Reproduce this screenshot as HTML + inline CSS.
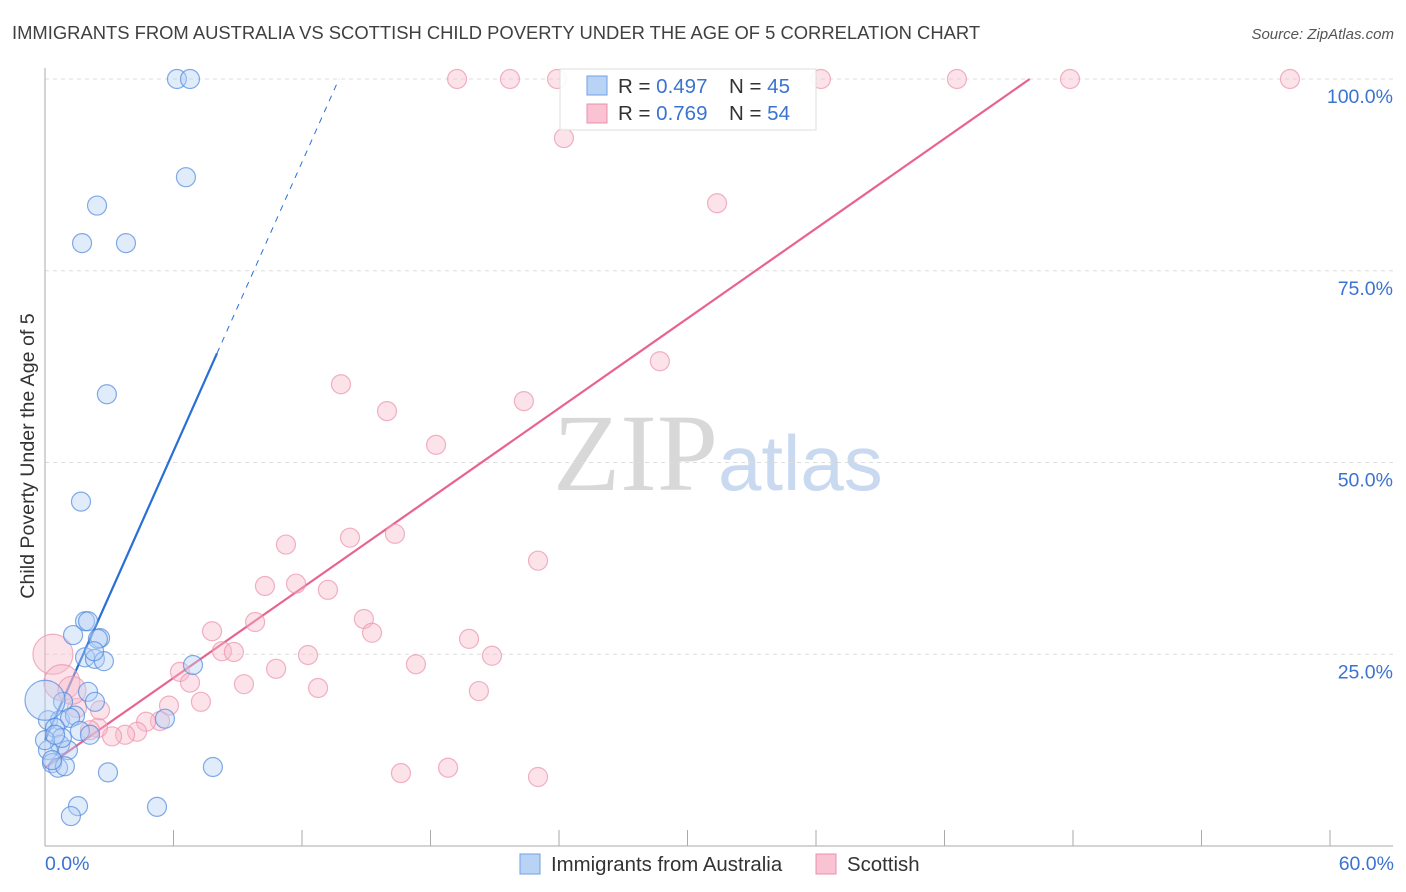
<!DOCTYPE html>
<html><head><meta charset="utf-8"><style>
body{margin:0;background:#fff;font-family:"Liberation Sans",sans-serif}
svg{display:block}
</style></head><body>
<svg id="chart" width="1406" height="892" xmlns="http://www.w3.org/2000/svg">
<text x="12" y="39" font-size="18.4" fill="#404040">IMMIGRANTS FROM AUSTRALIA VS SCOTTISH CHILD POVERTY UNDER THE AGE OF 5 CORRELATION CHART</text>
<text x="1394" y="39" font-size="15" fill="#555" font-style="italic" text-anchor="end">Source: ZipAtlas.com</text>
<text x="553" y="490" font-size="110" fill="#d8d8d8" font-family="Liberation Serif,serif">ZIP</text>
<text x="718" y="490" font-size="78" fill="#c9d9f0">atlas</text>
<text transform="translate(34,456) rotate(-90)" font-size="19.6" fill="#333" text-anchor="middle">Child Poverty Under the Age of 5</text>
<g id="grid"></g><g id="axes"></g><g id="trend"></g><g id="pts"></g>
<g>
<rect x="560" y="69" width="256" height="61" fill="#fff" fill-opacity="0.9" stroke="#ddd"/>
<rect x="587" y="76" width="20" height="19" fill="#b9d3f5" stroke="#6fa0e6"/>
<rect x="587" y="104" width="20" height="19" fill="#f9c3d3" stroke="#ec8fab"/>
<text x="618" y="93" font-size="20.5" fill="#333">R = <tspan fill="#3b73d0">0.497</tspan><tspan x="729">N = </tspan><tspan fill="#3b73d0">45</tspan></text>
<text x="618" y="120" font-size="20.5" fill="#333">R = <tspan fill="#3b73d0">0.769</tspan><tspan x="729">N = </tspan><tspan fill="#3b73d0">54</tspan></text>
</g>
<g>
<rect x="520" y="854" width="20" height="20" fill="#b9d3f5" stroke="#6fa0e6"/>
<text x="551" y="871" font-size="20.4" fill="#333">Immigrants from Australia</text>
<rect x="816" y="854" width="20" height="20" fill="#f9c3d3" stroke="#ec8fab"/>
<text x="847" y="871" font-size="20.4" fill="#333">Scottish</text>
</g>
<text x="45" y="870" font-size="19.5" fill="#3b73d0">0.0%</text>
<text x="1394" y="870" font-size="19.5" fill="#3b73d0" text-anchor="end">60.0%</text>
</svg>
<script>
const yTicks=[25,50,75,100];
const yTickLabels=["25.0%","50.0%","75.0%","100.0%"];
const blueX=[6.16,6.77,6.58,2.43,1.73,3.78,2.89,1.68,1.87,2.01,1.31,2.57,2.47,1.87,2.33,2.75,2.29,6.91,2.01,2.33,0.84,0.14,0.70,1.40,1.17,5.60,0.47,1.63,0.70,1.07,0.14,0.33,0.61,0.93,0.33,2.94,7.84,1.54,5.23,1.21,0,0.79,0,0.47,2.10];
const blueY=[100,100,87.2,83.5,78.6,78.6,58.9,44.9,29.3,29.3,27.5,27.1,27.0,24.6,24.4,24.1,25.4,23.6,20.1,18.8,18.8,16.4,16.4,17.0,16.7,16.6,15.4,15.0,13.2,12.5,12.5,10.8,10.2,10.4,11.2,9.6,10.3,5.2,5.1,3.9,19,14.1,13.8,14.5,14.5];
const pinkX=[19.24,21.71,23.91,36.23,42.58,47.86,58.13,24.23,31.38,28.71,13.82,15.97,22.36,18.26,14.24,16.34,11.25,23.02,10.27,11.72,13.21,14.89,9.81,15.27,7.80,19.80,20.87,8.26,8.82,12.28,10.79,17.32,6.30,6.77,9.29,12.75,20.26,7.28,5.79,5.37,4.72,4.30,3.74,3.13,2.47,2.10,1.49,0.37,0.79,1.26,16.62,18.82,23.02,2.57];
const pinkY=[100,100,100,100,100,100,100,92.3,83.8,63.2,60.2,56.7,58.0,52.3,40.2,40.7,39.3,37.2,33.9,34.2,33.4,29.6,29.2,27.8,28.0,27.0,24.8,25.4,25.3,24.9,23.1,23.7,22.7,21.3,21.1,20.6,20.2,18.8,18.3,16.3,16.2,14.9,14.5,14.3,15.4,15.1,18.0,25.0,21.3,20.3,9.5,10.2,9.0,17.7];
const blueTrend=[13.8,6.28];
const pinkTrend=[10.2,1.953];
const NS="http://www.w3.org/2000/svg";
const X0=45,X1=1330,Y0=846,Y100=79;
const sx=v=>X0+(v/60)*(X1-X0);
const sy=v=>Y0-(v/100)*(Y0-Y100);
function mk(tag,attrs,parent){const e=document.createElementNS(NS,tag);for(const k in attrs)e.setAttribute(k,attrs[k]);document.getElementById(parent).appendChild(e);return e;}
yTicks.forEach((t,i)=>{
 const l=mk('line',{x1:45,x2:1393,y1:sy(t),y2:sy(t),stroke:'#ddd','stroke-dasharray':'4,4'},'grid');
 
 
 const tx=mk('text',{x:1393,y:sy(t)+24,'font-size':19.5,fill:'#3b73d0','text-anchor':'end'},'grid');
 tx.textContent=yTickLabels[i];
 
 
});
let a=mk('line',{x1:45,x2:45,y1:68,y2:846,stroke:'#aaa'},'axes');


a=mk('line',{x1:45,x2:1393,y1:846,y2:846,stroke:'#aaa'},'axes');


for(let i=1;i<=10;i++){const t=mk('line',{x1:sx(i*6),x2:sx(i*6),y1:830,y2:846,stroke:'#aaa'},'axes');
 
 }
function pts(xs,ys,fill,stroke,name){xs.forEach((x,i)=>{let r=9.5;
 if(name==='scottish-point'&&i>=47&&i<=49)r=[20,18,14][i-47];
 if(name==='australia-point'&&i===40)r=20;
 const c=mk('circle',{cx:sx(x),cy:sy(ys[i]),r:r,fill:fill,'fill-opacity':0.4,stroke:stroke,'stroke-opacity':0.7,'stroke-width':1.2},'pts');
 
 });}
pts(pinkX,pinkY,'#f7b8cb','#eb91ad','scottish-point');
pts(blueX,blueY,'#b3cff4','#4f88dd','australia-point');
const bx1=8.03,bx2=(100-blueTrend[0])/blueTrend[1];
let t=mk('line',{x1:sx(0),y1:sy(blueTrend[0]),x2:sx(bx1),y2:sy(blueTrend[0]+blueTrend[1]*bx1),stroke:'#2a6fd6','stroke-width':2.2},'trend');


t=mk('line',{x1:sx(bx1),y1:sy(blueTrend[0]+blueTrend[1]*bx1),x2:sx(bx2),y2:sy(100),stroke:'#2a6fd6','stroke-width':1,'stroke-dasharray':'6,6'},'trend');


const px2=(100-pinkTrend[0])/pinkTrend[1];
t=mk('line',{x1:sx(0),y1:sy(pinkTrend[0]),x2:sx(px2),y2:sy(100),stroke:'#e8638e','stroke-width':2.2},'trend');


</script>
</body></html>
